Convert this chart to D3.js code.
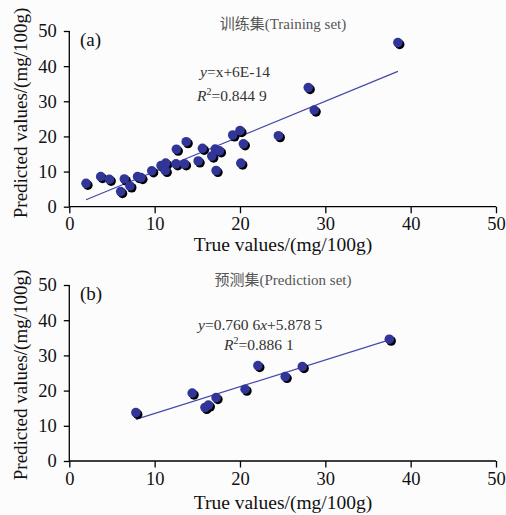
<!DOCTYPE html>
<html><head><meta charset="utf-8">
<script src="https://cdn.jsdelivr.net/npm/d3@7"></script>
<style>
html,body{margin:0;padding:0;background:#fcfcfc;}
svg{display:block;}
</style></head>
<body>
<svg id="chart" width="506" height="515"></svg>
<script>
// ---- data ----
const trainTrue = [1.96, 3.68, 4.69, 6.02, 6.45, 7.1, 8.0, 8.4, 9.66, 10.75, 11.3, 11.25, 12.55, 12.5, 13.5, 13.7, 15.1, 15.6, 16.7, 17.1, 17.6, 17.2, 19.15, 20.0, 20.4, 20.1, 24.5, 28.0, 28.7, 38.5];
const trainPred = [6.65, 8.55, 7.8, 4.3, 7.9, 5.9, 8.55, 8.3, 10.2, 11.7, 12.4, 10.3, 16.35, 12.2, 12.2, 18.5, 13.0, 16.6, 14.4, 16.4, 15.9, 10.3, 20.4, 21.65, 17.9, 12.4, 20.2, 33.9, 27.5, 46.7];
const predTrue = [7.8, 14.4, 15.9, 16.3, 17.2, 20.6, 22.1, 25.3, 27.3, 37.5];
const predPred = [13.75, 19.3, 15.2, 15.9, 18.0, 20.4, 27.1, 24.0, 26.8, 34.6];
const trainFit = {slope: 1, intercept: 6e-14};
const predFit = {slope: 0.7606, intercept: 5.8785};
const xTicks = [0, 10, 20, 30, 40, 50];
const yTicks = [0, 10, 20, 30, 40, 50];
const titles = ["训练集(Training set)", "预测集(Prediction set)"];
const panelLabels = ["(a)", "(b)"];
const eqLines = [["y", "=x+6E-14"], ["y", "=0.760 6", "x", "+5.878 5"]];
const r2Values = ["=0.844 9", "=0.886 1"];
const xLabel = "True values/(mg/100g)";
const yLabel = "Predicted values/(mg/100g)";

const svg = d3.select("#chart");
const serif = "'Liberation Serif','Times New Roman',serif";
const cjk = "'Liberation Serif','Noto Sans CJK SC',serif";

const panels = [
  {tx: trainTrue, py: trainPred, fit: trainFit, top: 31, bottom: 206.7,
   titleY: 29, labY: 46, eqX: 200, eqY: 77, r2X: 197, r2Y: 101, xLabY: 251, yLabC: 113},
  {tx: predTrue, py: predPred, fit: predFit, top: 285, bottom: 461,
   titleY: 285, labY: 300, eqX: 198, eqY: 330, r2X: 224, r2Y: 350, xLabY: 509, yLabC: 375}
];

panels.forEach((p, i) => {
  const x = d3.scaleLinear().domain([0, 50]).range([69.3, 496]);
  const y = d3.scaleLinear().domain([0, 50]).range([p.bottom, p.top]);
  const g = svg.append("g");

  // axes
  const xa = g.append("g").attr("transform", `translate(0,${p.bottom})`)
    .call(d3.axisBottom(x).tickValues(xTicks).tickSize(6.5).tickPadding(4).tickFormat(d3.format("d")));
  const ya = g.append("g").attr("transform", `translate(69.3,0)`)
    .call(d3.axisLeft(y).tickValues(yTicks).tickSize(5.5).tickPadding(7).tickFormat(d3.format("d")));
  [xa, ya].forEach(a => {
    a.select(".domain").attr("stroke", "#000").attr("stroke-width", 1.3);
    a.selectAll(".tick line").attr("stroke", "#000").attr("stroke-width", 1.3);
    a.selectAll(".tick text").attr("fill", "#111").style("font-family", serif).style("font-size", "18.5px");
  });
  xa.select(".domain").attr("d", `M69.3,0H496`);
  ya.select(".domain").attr("d", `M0,${p.bottom}V${p.top}`);

  // fit line
  const ext = d3.extent(p.tx);
  g.append("line")
    .attr("x1", x(ext[0])).attr("y1", y(p.fit.slope * ext[0] + p.fit.intercept))
    .attr("x2", x(ext[1])).attr("y2", y(p.fit.slope * ext[1] + p.fit.intercept))
    .attr("stroke", "#4448a6").attr("stroke-width", 1.2);

  const pts = p.tx.map((v, k) => [v, p.py[k]]);
  g.selectAll("circle.sh").data(pts).join("circle").attr("class", "sh")
    .attr("cx", d => x(d[0]) + 1.8).attr("cy", d => y(d[1]) + 1.8).attr("r", 4.8)
    .attr("fill", "#000");
  g.selectAll("circle.pt").data(pts).join("circle").attr("class", "pt")
    .attr("cx", d => x(d[0])).attr("cy", d => y(d[1])).attr("r", 4.8)
    .attr("fill", "#303597");

  g.append("text").attr("x", 283).attr("y", p.titleY).attr("text-anchor", "middle")
    .style("font-family", cjk).style("font-size", "15px").attr("fill", "#555")
    .text(titles[i]);
  g.append("text").attr("x", 80).attr("y", p.labY)
    .style("font-family", serif).style("font-size", "19px").attr("fill", "#111")
    .text(panelLabels[i]);

  const eq = g.append("text").attr("x", p.eqX).attr("y", p.eqY)
    .style("font-family", serif).style("font-size", "15.5px").attr("fill", "#333");
  eqLines[i].forEach((s) => {
    eq.append("tspan").attr("font-style", (s === "y" || s === "x") ? "italic" : "normal").text(s);
  });
  const r2 = g.append("text").attr("x", p.r2X).attr("y", p.r2Y)
    .style("font-family", serif).style("font-size", "15.5px").attr("fill", "#333");
  r2.append("tspan").attr("font-style", "italic").text("R");
  r2.append("tspan").attr("dy", -6).style("font-size", "10px").text("2");
  r2.append("tspan").attr("dy", 6).text(r2Values[i]);

  g.append("text").attr("x", 283).attr("y", p.xLabY).attr("text-anchor", "middle")
    .style("font-family", serif).style("font-size", "19.5px").attr("fill", "#111")
    .text(xLabel);
  g.append("text").attr("transform", `translate(27,${p.yLabC}) rotate(-90)`).attr("text-anchor", "middle")
    .style("font-family", serif).style("font-size", "19px").attr("fill", "#111")
    .text(yLabel);
});
</script>
</body></html>
